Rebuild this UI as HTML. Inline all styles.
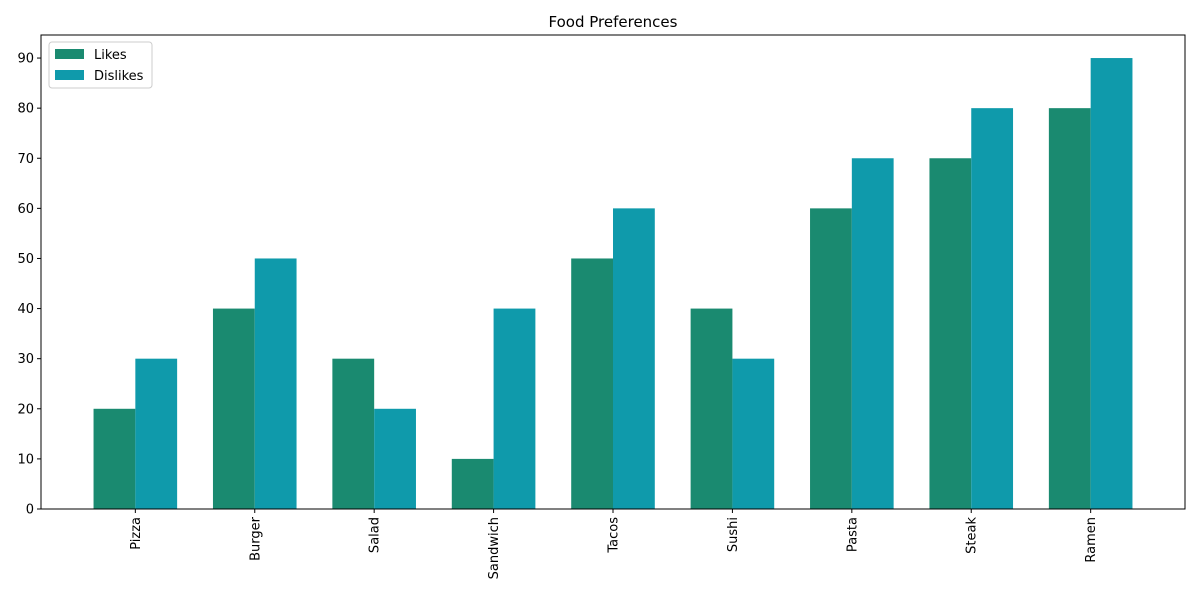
<!DOCTYPE html>
<html><head><meta charset="utf-8"><style>
body{margin:0;background:#fff;font-family:"Liberation Sans","DejaVu Sans",sans-serif;}
svg text{font-family:"DejaVu Sans","Liberation Sans",sans-serif;}
</style></head><body>
<svg id="chart" width="1200" height="600" viewBox="0 0 1200 600" xmlns="http://www.w3.org/2000/svg">
<rect width="1200" height="600" fill="#fff"/>
<text x="613" y="27" text-anchor="middle" font-size="15" fill="#000">Food Preferences</text>
<g id="bars"></g>
<g id="yticks"></g>
<g id="xticks"></g>
<rect x="41" y="35" width="1144" height="474" fill="none" stroke="#000" stroke-width="1"/>
<g>
<rect x="49" y="42" width="103" height="46" rx="3" fill="#fff" fill-opacity="0.8" stroke="#ccc"/>
<g>
<rect x="55" y="49" width="29" height="10" fill="#1a8a70"/>
<text x="94" y="59" font-size="13">Likes</text></g>
<g>
<rect x="55" y="70" width="29" height="10" fill="#0f9aab"/>
<text x="94" y="80" font-size="13">Dislikes</text></g>
</g>
</svg>
<script>
const categories=["Pizza","Burger","Salad","Sandwich","Tacos","Sushi","Pasta","Steak","Ramen"];
const likes=[20,40,30,10,50,40,60,70,80];
const dislikes=[30,50,20,40,60,30,70,80,90];
const yTicks=[0,10,20,30,40,50,60,70,80,90];
const NS="http://www.w3.org/2000/svg";
const L=41,R=1185,T=35,B=509;
const xMin=-0.79,xMax=8.79,yMin=0,yMax=94.6;
const xs=v=>L+(v-xMin)/(xMax-xMin)*(R-L);
const ys=v=>B-(v-yMin)/(yMax-yMin)*(B-T);
const bw=0.35;
function mk(tag,attrs,parent){const e=document.createElementNS(NS,tag);for(const k in attrs)e.setAttribute(k,attrs[k]);parent.appendChild(e);return e;}
const gb=document.getElementById('bars'),gy=document.getElementById('yticks'),gx=document.getElementById('xticks');
categories.forEach((c,i)=>{
  const x1=xs(i-bw),x2=xs(i),x3=xs(i+bw);
  const a=mk('rect',{x:x1,y:ys(likes[i]),width:x2-x1,height:ys(0)-ys(likes[i]),fill:'#1a8a70'},gb);
  
  
  const b=mk('rect',{x:x2,y:ys(dislikes[i]),width:x3-x2,height:ys(0)-ys(dislikes[i]),fill:'#0f9aab'},gb);
  
  
  mk('line',{x1:xs(i),x2:xs(i),y1:B,y2:B+4,stroke:'#000'},gx);
  const t=mk('text',{x:0,y:0,'font-size':13,'text-anchor':'end',transform:`translate(${xs(i)+4.5},${B+8}) rotate(-90)`},gx);
  t.textContent=c;
  
  
});
yTicks.forEach(v=>{
  mk('line',{x1:L-4,x2:L,y1:ys(v),y2:ys(v),stroke:'#000'},gy);
  const t=mk('text',{x:L-7,y:ys(v)+4.5,'font-size':13,'text-anchor':'end'},gy);
  t.textContent=v;
  
  
});
</script>
</body></html>
